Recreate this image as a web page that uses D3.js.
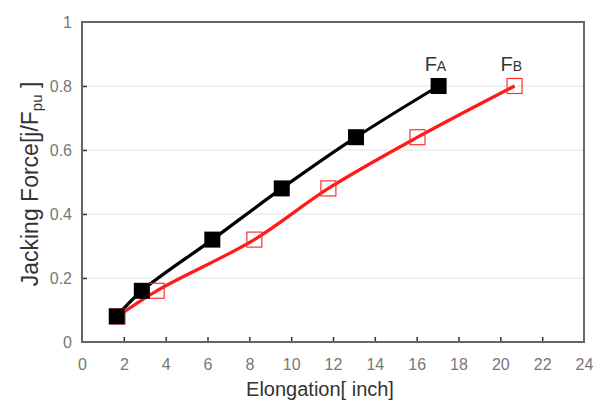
<!DOCTYPE html>
<html>
<head>
<meta charset="utf-8">
<script src="https://cdn.jsdelivr.net/npm/d3@7"></script>
<style>
  body { margin: 0; background: #fff; }
  text { font-family: "Liberation Sans", Arial, sans-serif; }
</style>
</head>
<body>
<svg width="613" height="412"></svg>
<script>
// данные
const seriesNames = ["A", "B"];
const elongA = [1.66, 2.86, 6.23, 9.55, 13.1, 17.05];
const forceA = [0.08, 0.16, 0.32, 0.48, 0.64, 0.8];
const elongB = [1.7, 3.57, 8.24, 11.78, 16.04, 20.68];
const forceB = [0.08, 0.16, 0.32, 0.48, 0.64, 0.8];
const xTicks = [0, 2, 4, 6, 8, 10, 12, 14, 16, 18, 20, 22, 24];
const yTicks = [0, 0.2, 0.4, 0.6, 0.8, 1];

const svg = d3.select("svg");
const plotLeft = 82, plotRight = 584, plotTop = 22, plotBottom = 342;

const x = d3.scaleLinear().domain([0, 24]).range([plotLeft, plotRight]);
const y = d3.scaleLinear().domain([0, 1]).range([plotBottom, plotTop]);

// сетка
svg.append("g").selectAll("line")
  .data(yTicks.filter(d => d > 0 && d < 1))
  .join("line")
  .attr("x1", plotLeft).attr("x2", plotRight)
  .attr("y1", d => y(d)).attr("y2", d => y(d))
  .attr("stroke", "#e2e2e2").attr("stroke-width", 1);

// оси: засечки внутрь
const xAxis = d3.axisBottom(x).tickValues(xTicks).tickSize(-5).tickPadding(17).tickFormat(d3.format("d"));
const yAxis = d3.axisLeft(y).tickValues(yTicks).tickSize(-5).tickPadding(10).tickFormat(d => d === 0 || d === 1 ? d : d.toFixed(1));

const gx = svg.append("g").attr("transform", `translate(0,${plotBottom})`).call(xAxis);
const gy = svg.append("g").attr("transform", `translate(${plotLeft},0)`).call(yAxis);
[gx, gy].forEach(g => {
  g.select(".domain").remove();
  g.selectAll(".tick line").attr("stroke", "#333").attr("stroke-width", 1.5);
  g.selectAll(".tick text").attr("fill", "#777").style("font-size", "16px");
});
gx.selectAll(".tick").filter(d => d === 0 || d === 24).select("line").remove();
gy.selectAll(".tick").filter(d => d === 0 || d === 1).select("line").remove();

// рамка
svg.append("rect")
  .attr("x", plotLeft).attr("y", plotTop)
  .attr("width", plotRight - plotLeft).attr("height", plotBottom - plotTop)
  .attr("fill", "none").attr("stroke", "#666").attr("stroke-width", 2);

const line = d3.line()
  .x(d => x(d[0]))
  .y(d => y(d[1]))
  .curve(d3.curveCatmullRom.alpha(0.5));

const dataA = elongA.map((v, i) => [v, forceA[i]]);
const dataB = elongB.map((v, i) => [v, forceB[i]]);

svg.append("path").attr("d", line(dataB))
  .attr("fill", "none").attr("stroke", "#ff1a1a").attr("stroke-width", 3.2);
svg.append("path").attr("d", line(dataA))
  .attr("fill", "none").attr("stroke", "#000").attr("stroke-width", 3.2);

const s = 16;
svg.append("g").selectAll("rect")
  .data(dataB).join("rect")
  .attr("x", d => x(d[0]) - s / 2 + 0.5).attr("y", d => y(d[1]) - s / 2 + 0.5)
  .attr("width", s - 1).attr("height", s - 1)
  .attr("fill", "none").attr("stroke", "#ff3030").attr("stroke-width", 1.2);
svg.append("g").selectAll("rect")
  .data(dataA).join("rect")
  .attr("x", d => x(d[0]) - s / 2).attr("y", d => y(d[1]) - s / 2)
  .attr("width", s).attr("height", s)
  .attr("fill", "#000");

// подписи серий
const lastA = dataA[dataA.length - 1], lastB = dataB[dataB.length - 1];
[[lastA, seriesNames[0]], [lastB, seriesNames[1]]].forEach(([p, name]) => {
  const t = svg.append("text")
    .attr("x", x(p[0]) - 14).attr("y", y(p[1]) - 15)
    .attr("fill", "#333").style("font-size", "20px");
  t.append("tspan").text("F");
  t.append("tspan").style("font-size", "14px").text(name);
});

// заголовки осей
svg.append("text")
  .attr("x", 320).attr("y", 396)
  .attr("text-anchor", "middle").attr("fill", "#333")
  .style("font-size", "20px")
  .text("Elongation[ inch]");

const yt = svg.append("text")
  .attr("transform", "translate(38,184) rotate(-90)")
  .attr("text-anchor", "middle").attr("fill", "#333")
  .style("font-size", "23px");
yt.append("tspan").text("Jacking Force[j/F");
yt.append("tspan").attr("dy", 4).style("font-size", "15px").text("pu");
yt.append("tspan").attr("dy", -4).text(" ]");
</script>
</body>
</html>
